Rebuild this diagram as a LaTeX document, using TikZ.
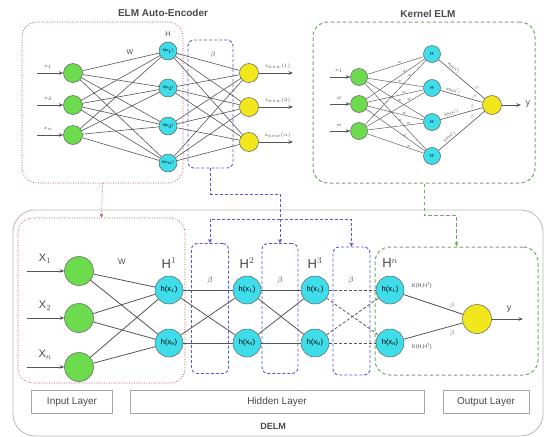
\documentclass[tikz,border=0pt]{standalone}
\usepackage{fontspec}
\setmainfont{Liberation Sans}
\usetikzlibrary{arrows.meta,calc}

\definecolor{ingreen}{HTML}{6CDB4E}
\definecolor{hcyan}{HTML}{3FDCEA}
\definecolor{outyellow}{HTML}{F2E61C}
\definecolor{edgegray}{HTML}{555555}
\definecolor{boxblue}{HTML}{5858D8}
\definecolor{boxgreen}{HTML}{6BAF5F}
\definecolor{boxred}{HTML}{B0505A}
\definecolor{titlegray}{HTML}{4A4A4A}

\tikzset{
  neuron/.style={circle, draw=gray!75!black, line width=0.5pt, inner sep=0pt},
  innode/.style={neuron, fill=ingreen},
  hnode/.style={neuron, fill=hcyan},
  outnode/.style={neuron, fill=outyellow},
  link/.style={draw=edgegray, line width=0.6pt},
  dlink/.style={link, dash pattern=on 3pt off 2pt},
  arr/.style={link, -{Stealth[length=4.5pt,width=3.5pt]}},
  bluebox/.style={draw=boxblue, line width=0.9pt, rounded corners=6pt, dash pattern=on 3pt off 2pt},
  bluelink/.style={draw=boxblue, line width=0.9pt, dash pattern=on 3pt off 2pt},
  greenbox/.style={draw=boxgreen, line width=1pt, rounded corners=15pt, dash pattern=on 3.5pt off 2.5pt},
  greenlink/.style={draw=boxgreen, line width=1pt, dash pattern=on 3.5pt off 2.5pt},
  redbox/.style={draw=boxred, line width=0.6pt, rounded corners=15pt, dash pattern=on 1pt off 1.5pt},
  redlink/.style={draw=boxred, line width=0.6pt, dash pattern=on 1pt off 1.5pt},
  layerbox/.style={draw=gray!70, line width=0.8pt, minimum height=23pt, inner sep=0pt, font=\fontsize{10}{10}\selectfont, text=titlegray},
  title/.style={font=\bfseries\fontsize{10}{10}\selectfont, text=titlegray},
  tiny/.style={font=\fontsize{4}{4}\selectfont, text=edgegray, inner sep=0.5pt},
  hlabel/.style={font=\fontsize{7.5}{7.5}\selectfont},
  biglabel/.style={font=\fontsize{13}{13}\selectfont, text=titlegray},
  midlabel/.style={font=\fontsize{11}{11}\selectfont, text=titlegray},
}

\begin{document}
\begin{tikzpicture}[x=1pt,y=-1pt]
\useasboundingbox (0,0) rectangle (547,437);
\fill[white] (0,0) rectangle (547,437);

% ---------------- ELM auto-encoder ----------------
\node[title] (t1) at (163,13) {ELM Auto-Encoder};
\node[redbox, minimum width=161pt, minimum height=161pt] (rbox0) at (102.5,102.5) {};
\node[bluebox, minimum width=45pt, minimum height=128pt] (beta0) at (210.5,104) {};
\node[font=\fontsize{7}{7}\selectfont, text=titlegray] (b0l) at (213,55) {$\beta$};
\node[font=\fontsize{7}{7}\selectfont, text=titlegray] (w0) at (130,52) {W};
\node[font=\fontsize{7}{7}\selectfont, text=titlegray] (h0) at (168,34) {H};

\foreach \i/\y in {1/73,2/105,3/135}{
  \node[innode, minimum size=19pt] (a\i) at (73,\y) {};
  \coordinate (ain\i) at (37,\y);
  \draw[arr] (ain\i) -- (a\i);
}
\node[tiny] at (48,67) {$x_1$};
\node[tiny] at (48,99) {$x_2$};
\node[tiny] at (48,129) {$x_n$};

\foreach \i/\y/\t in {1/51/1,2/88/2,3/126/3,4/163/n}{
  \node[hnode, minimum size=18pt, font=\fontsize{3.8}{3.8}\selectfont] (b\i) at (168,\y) {h(x$_\t$)};
}
\foreach \i/\y/\t in {1/73/1,2/107/2,3/142/n}{
  \node[outnode, minimum size=19pt] (c\i) at (249,\y) {};
  \coordinate (cout\i) at (293,\y);
  \draw[arr] (c\i) -- (cout\i);
  \node[tiny, font=\fontsize{4.5}{4.5}\selectfont] at (278,\y-7) {$\mathrm{x}_{new}(\t)$};
}
\foreach \i in {1,2,3}{
  \foreach \j in {1,2,3,4}{
    \draw[link] (a\i) -- (b\j);
    \draw[link] (b\j) -- (c\i);
  }
}

% ---------------- Kernel ELM ----------------
\node[title] (t2) at (428,14) {Kernel ELM};
\node[greenbox, minimum width=222pt, minimum height=161pt] (kbox) at (424,102.5) {};
\foreach \i/\y in {1/77,2/104,3/131}{
  \node[innode, minimum size=17pt] (k\i) at (359,\y) {};
  \coordinate (kin\i) at (330,\y);
  \draw[arr] (kin\i) -- (k\i);
}
\node[tiny] at (339,71) {$x_1$};
\node[tiny] at (339,98) {x2};
\node[tiny] at (339,125) {xn};
\foreach \j/\y in {1/54,2/88,3/122,4/156}{
  \node[hnode, minimum size=17pt, font=\fontsize{4.5}{4.5}\selectfont] (kh\j) at (432,\y) {H};
}
\node[outnode, minimum size=19pt] (ko) at (492,105) {};
\coordinate (kout) at (521,105);
\draw[arr] (ko) -- (kout);
\node[font=\fontsize{9}{9}\selectfont\rmfamily, text=edgegray, anchor=west] (ky) at (522,104) {y};
% weights w' on every input-to-kernel link, staggered along the links
\foreach \i/\p in {1/0.58,2/0.66,3/0.74}{
  \foreach \j in {1,2,3,4}{
    \draw[link, line width=0.45pt] (k\i) -- node[tiny, pos=\p, font=\fontsize{3.6}{3.6}\selectfont, above=-0.3pt] {w'} (kh\j);
  }
}
\foreach \j in {1,2,3,4}{
  \draw[link] (kh\j) -- node[tiny, sloped, pos=0.28, above=0.3pt, font=\fontsize{3.8}{3.8}\selectfont] {K(H,H$^\mathrm{T}$)}
                     node[tiny, sloped, pos=0.78, above=0.3pt, font=\fontsize{5}{5}\selectfont\itshape, text=gray] {$\beta$} (ko);
}

% ---------------- DELM ----------------
\node[draw=gray!55, line width=0.8pt, rounded corners=22pt, minimum width=530pt, minimum height=226pt] (delm) at (278,323) {};
\node[font=\bfseries\fontsize{9}{9}\selectfont, text=titlegray] (delml) at (273,426) {DELM};

\node[redbox, minimum width=167pt, minimum height=165pt] (rbox1) at (101.5,300.5) {};
\node[bluebox, minimum width=37pt, minimum height=130pt] (beta1) at (210,308.5) {};
\node[bluebox, minimum width=36pt, minimum height=130pt] (beta2) at (280,308.5) {};
\node[bluebox, minimum width=37pt, minimum height=128pt] (beta3) at (351.5,311) {};
\node[greenbox, minimum width=163pt, minimum height=128pt] (obox) at (456.5,311) {};

% connectors between the two stages
\draw[redlink, -{Stealth[length=4pt,width=3.5pt]}] (rbox0.south) -- (rbox1.north);
\coordinate (bend) at (280,194);
\coordinate (hub) at (280,219);
\draw[bluelink] (beta0.south) |- (bend) -- (hub);
\draw[bluelink, -{Stealth[length=4pt,width=4pt]}] (hub) -| (beta1.north);
\draw[bluelink, -{Stealth[length=4pt,width=4pt]}] (hub) -- (beta2.north);
\draw[bluelink, -{Stealth[length=4pt,width=4pt]}] (hub) -| (beta3.north);
\draw[greenlink, -{Stealth[length=4.5pt,width=4pt]}] (kbox.south) -- ++(0,32) -| (obox.north);

% input layer
\foreach \i/\y/\t in {1/271/1,2/318/2,3/367/n}{
  \node[innode, minimum size=29pt] (x\i) at (79,\y) {};
  \coordinate (xin\i) at (27,\y);
  \draw[arr] (xin\i) -- (x\i);
  \node[midlabel] at (45,\y-12) {X$_\t$};
}
\node[font=\fontsize{8}{8}\selectfont, text=titlegray] (w1) at (122,262) {W};

% hidden layers
\foreach \k/\x/\s in {1/169/1,2/247/2,3/315/3,4/390/n}{
  \node[hnode, minimum size=28pt, hlabel] (p\k) at (\x,290) {h(x$_1$)};
  \node[hnode, minimum size=28pt, hlabel] (q\k) at (\x,343) {h(x$_\mathrm{n}$)};
  \node[biglabel] at (\x,263) {H$^\s$};
}
\foreach \x in {210,280,351}{
  \node[font=\fontsize{8}{8}\selectfont, text=titlegray] at (\x,280) {$\beta$};
}
\foreach \i in {1,2,3}{
  \draw[link, line width=0.8pt] (x\i) -- (p1);
  \draw[link, line width=0.8pt] (x\i) -- (q1);
}
\foreach \a/\b in {1/2,2/3}{
  \draw[link, line width=0.8pt] (p\a) -- (p\b);
  \draw[link, line width=0.8pt] (p\a) -- (q\b);
  \draw[link, line width=0.8pt] (q\a) -- (p\b);
  \draw[link, line width=0.8pt] (q\a) -- (q\b);
}
\draw[dlink, line width=0.8pt] (p3) -- (p4);
\draw[dlink, line width=0.8pt] (p3) -- (q4);
\draw[dlink, line width=0.8pt] (q3) -- (p4);
\draw[dlink, line width=0.8pt] (q3) -- (q4);

% output layer
\node[outnode, minimum size=29pt] (yo) at (477,319) {};
\coordinate (yout) at (523,319);
\draw[arr, line width=0.8pt] (yo) -- (yout);
\node[font=\fontsize{9}{9}\selectfont\rmfamily, text=edgegray] at (509,309) {y};
\draw[link, line width=0.8pt] (p4) -- (yo);
\draw[link, line width=0.8pt] (q4) -- (yo);
\node[font=\fontsize{5.5}{5.5}\selectfont, text=titlegray] at (422,286) {K(H,H$^\mathrm{T}$)};
\node[font=\fontsize{5.5}{5.5}\selectfont, text=titlegray] at (422,347) {K(H,H$^\mathrm{T}$)};
\node[font=\fontsize{7}{7}\selectfont\rmfamily\itshape, text=gray] at (452,306) {$\beta$};
\node[font=\fontsize{7}{7}\selectfont\rmfamily\itshape, text=gray] at (452,334) {$\beta$};

% layer captions
\node[layerbox, minimum width=81pt] (lin) at (72,402) {Input Layer};
\node[layerbox, minimum width=294pt] (lhid) at (277,402) {Hidden Layer};
\node[layerbox, minimum width=86pt] (lout) at (486,402) {Output Layer};
\end{tikzpicture}
\end{document}
